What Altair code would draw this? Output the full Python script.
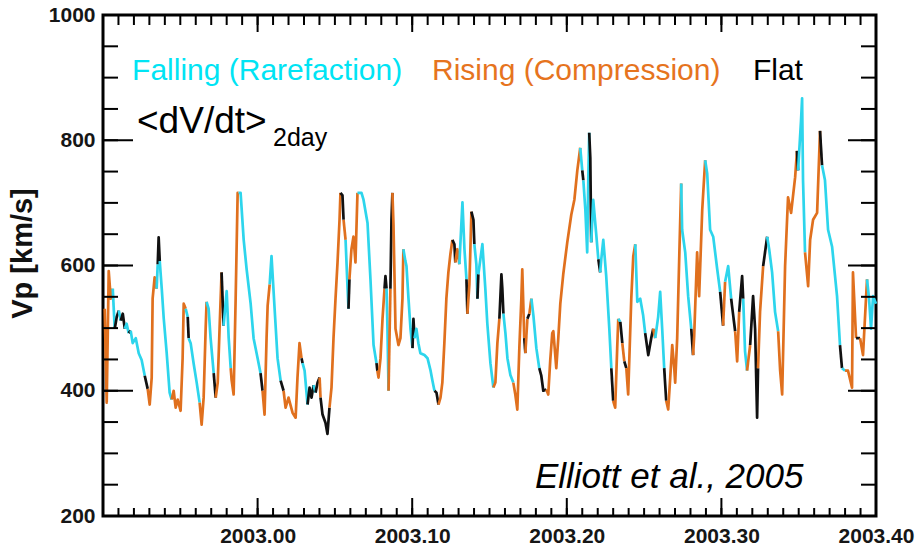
import altair as alt
import pandas as pd

# ---- solar wind speed Vp (km/s) vs decimal year, with 2-day slope class ----
# F = falling (rarefaction), R = rising (compression), L = flat
t = [
    2002.9011, 2002.9024, 2002.9037, 2002.9050, 2002.9063, 2002.9076, 2002.9089, 2002.9102,
    2002.9115, 2002.9128, 2002.9141, 2002.9153, 2002.9166, 2002.9179, 2002.9192, 2002.9212,
    2002.9231, 2002.9250, 2002.9270, 2002.9289, 2002.9302, 2002.9315, 2002.9321, 2002.9334,
    2002.9347, 2002.9354, 2002.9360, 2002.9367, 2002.9380, 2002.9393, 2002.9412, 2002.9431,
    2002.9444, 2002.9457, 2002.9470, 2002.9483, 2002.9502, 2002.9515, 2002.9522, 2002.9535,
    2002.9548, 2002.9554, 2002.9567, 2002.9586, 2002.9606, 2002.9625, 2002.9638, 2002.9651,
    2002.9664, 2002.9670, 2002.9683, 2002.9696, 2002.9716, 2002.9729, 2002.9742, 2002.9754,
    2002.9767, 2002.9780, 2002.9800, 2002.9813, 2002.9826, 2002.9832, 2002.9845, 2002.9858,
    2002.9871, 2002.9877, 2002.9890, 2002.9910, 2002.9929, 2002.9955, 2002.9974, 2003.0000,
    2003.0019, 2003.0032, 2003.0045, 2003.0058, 2003.0065, 2003.0078, 2003.0090, 2003.0110,
    2003.0129, 2003.0149, 2003.0168, 2003.0181, 2003.0200, 2003.0226, 2003.0246, 2003.0258,
    2003.0271, 2003.0284, 2003.0291, 2003.0304, 2003.0323, 2003.0336, 2003.0349, 2003.0362,
    2003.0375, 2003.0388, 2003.0401, 2003.0407, 2003.0420, 2003.0439, 2003.0452, 2003.0465,
    2003.0478, 2003.0491, 2003.0504, 2003.0517, 2003.0530, 2003.0536, 2003.0549, 2003.0556,
    2003.0569, 2003.0582, 2003.0588, 2003.0594, 2003.0607, 2003.0620, 2003.0633, 2003.0646,
    2003.0672, 2003.0685, 2003.0711, 2003.0730, 2003.0750, 2003.0769, 2003.0775, 2003.0782,
    2003.0795, 2003.0808, 2003.0821, 2003.0827, 2003.0834, 2003.0840, 2003.0847, 2003.0859,
    2003.0866, 2003.0872, 2003.0879, 2003.0892, 2003.0911, 2003.0924, 2003.0937, 2003.0943,
    2003.0956, 2003.0963, 2003.0976, 2003.0989, 2003.1002, 2003.1008, 2003.1015, 2003.1027,
    2003.1040, 2003.1053, 2003.1079, 2003.1099, 2003.1118, 2003.1131, 2003.1144, 2003.1157,
    2003.1170, 2003.1183, 2003.1195, 2003.1208, 2003.1221, 2003.1234, 2003.1247, 2003.1260,
    2003.1273, 2003.1279, 2003.1292, 2003.1305, 2003.1325, 2003.1338, 2003.1351, 2003.1357,
    2003.1370, 2003.1383, 2003.1396, 2003.1402, 2003.1415, 2003.1422, 2003.1428, 2003.1441,
    2003.1454, 2003.1473, 2003.1486, 2003.1506, 2003.1525, 2003.1538, 2003.1551, 2003.1564,
    2003.1577, 2003.1583, 2003.1590, 2003.1603, 2003.1616, 2003.1635, 2003.1654, 2003.1667,
    2003.1680, 2003.1693, 2003.1706, 2003.1712, 2003.1725, 2003.1732, 2003.1745, 2003.1758,
    2003.1771, 2003.1784, 2003.1803, 2003.1822, 2003.1835, 2003.1848, 2003.1868, 2003.1880,
    2003.1893, 2003.1906, 2003.1913, 2003.1932, 2003.1945, 2003.1958, 2003.1977, 2003.2003,
    2003.2029, 2003.2049, 2003.2068, 2003.2087, 2003.2100, 2003.2107, 2003.2120, 2003.2132,
    2003.2139, 2003.2145, 2003.2152, 2003.2158, 2003.2171, 2003.2191, 2003.2204, 2003.2216,
    2003.2223, 2003.2236, 2003.2255, 2003.2275, 2003.2288, 2003.2300, 2003.2313, 2003.2326,
    2003.2333, 2003.2346, 2003.2359, 2003.2372, 2003.2385, 2003.2397, 2003.2417, 2003.2430,
    2003.2443, 2003.2456, 2003.2475, 2003.2494, 2003.2507, 2003.2527, 2003.2546, 2003.2559,
    2003.2572, 2003.2591, 2003.2604, 2003.2617, 2003.2630, 2003.2643, 2003.2656, 2003.2669,
    2003.2682, 2003.2695, 2003.2701, 2003.2714, 2003.2727, 2003.2740, 2003.2746, 2003.2766,
    2003.2785, 2003.2805, 2003.2817, 2003.2824, 2003.2843, 2003.2856, 2003.2876, 2003.2895,
    2003.2908, 2003.2927, 2003.2947, 2003.2973, 2003.2992, 2003.3011, 2003.3024, 2003.3044,
    2003.3063, 2003.3089, 2003.3102, 2003.3115, 2003.3134, 2003.3141, 2003.3153, 2003.3166,
    2003.3186, 2003.3205, 2003.3218, 2003.3231, 2003.3237, 2003.3250, 2003.3270, 2003.3296,
    2003.3309, 2003.3328, 2003.3347, 2003.3367, 2003.3380, 2003.3393, 2003.3412, 2003.3431,
    2003.3451, 2003.3477, 2003.3489, 2003.3496, 2003.3515, 2003.3522, 2003.3528, 2003.3541,
    2003.3561, 2003.3574, 2003.3593, 2003.3619, 2003.3638, 2003.3651, 2003.3670, 2003.3690,
    2003.3716, 2003.3748, 2003.3767, 2003.3780, 2003.3800, 2003.3819, 2003.3845, 2003.3851,
    2003.3871, 2003.3897, 2003.3916, 2003.3942, 2003.3955, 2003.3968, 2003.3981, 2003.4000,
]

vp = [
    531, 381, 591, 547, 563, 499, 518, 528,
    512, 523, 499, 507, 492, 496, 476, 484,
    460, 449, 424, 403, 378, 421, 547, 581,
    563, 602, 645, 607, 563, 515, 460, 397,
    386, 400, 373, 386, 368, 452, 539, 531,
    518, 484, 476, 444, 413, 381, 346, 389,
    499, 542, 531, 484, 428, 389, 413, 499,
    589, 504, 559, 484, 436, 417, 394, 547,
    716, 716, 716, 641, 594, 539, 484, 452,
    428, 400, 362, 484, 536, 570, 615, 531,
    452, 416, 400, 373, 389, 365, 357, 421,
    476, 452, 444, 432, 378, 405, 389, 409,
    397, 413, 421, 389, 362, 349, 331, 373,
    405, 484, 547, 605, 673, 716, 712, 673,
    641, 563, 531, 578, 626, 646, 605, 716,
    716, 705, 668, 578, 473, 444, 432, 421,
    452, 515, 563, 583, 563, 499, 400, 563,
    673, 716, 665, 499, 473, 484, 547, 626,
    607, 599, 547, 499, 468, 515, 484, 499,
    476, 460, 457, 452, 433, 416, 400, 397,
    378, 389, 413, 476, 547, 589, 618, 641,
    634, 605, 626, 602, 701, 626, 578, 523,
    570, 686, 673, 634, 602, 547, 586, 610,
    634, 563, 507, 444, 405, 413, 476, 515,
    586, 563, 523, 492, 452, 425, 413, 394,
    370, 468, 547, 594, 484, 460, 515, 523,
    547, 520, 468, 436, 424, 400, 402, 394,
    449, 492, 495, 436, 484, 539, 586, 637,
    681, 705, 752, 788, 752, 736, 689, 621,
    736, 812, 772, 637, 705, 648, 610, 589,
    610, 641, 583, 499, 436, 384, 373, 468,
    515, 510, 476, 447, 436, 394, 547, 615,
    634, 542, 547, 520, 492, 457, 484, 499,
    484, 518, 558, 499, 436, 384, 370, 421,
    473, 436, 413, 484, 610, 731, 657, 621,
    551, 499, 457, 488, 621, 551, 689, 768,
    747, 657, 646, 594, 558, 504, 574, 599,
    547, 495, 447, 526, 583, 547, 463, 432,
    473, 551, 499, 357, 436, 526, 599, 646,
    626, 589, 526, 495, 432, 394, 599, 709,
    684, 741, 783, 752, 831, 867, 736, 621,
    567, 641, 673, 684, 815, 760, 736, 657,
    630, 551, 473, 436, 432, 432, 405, 589,
    484, 484, 457, 578, 547, 499, 551, 539,
]

trend = list(
    "RRRRRFLL" "FLLFFLFF" "FFFLRRRR" "RFLLFFFF"
    "FRRRRRRR" "FLFFFFRR" "RRFFFLRR" "RLFFFRRR"
    "RRFFFFFF" "FLRRRRFF" "FFLRRRRR" "RRLFFLLL"
    "FLLRLLLL" "RRRRRRLL" "RFFLRRRR" "FFFFFFLR"
    "RRRLLFFR" "LLRRRRRR" "FFFFFLLF" "FFFFFFFL"
    "LRRRRRRR" "LLRRFFFL" "RRLLFFLF" "FFFFFRRR"
    "LLLFFFFR" "RRRRRLRL" "RFFFLLLR" "RRRRRRRR"
    "RRRRFLFF" "FFLLFFFL" "FFFFFLRR" "RFLRLRRR"
    "RFFFFLLL" "RFFFFLRR" "RRRRRRFF" "FFLRRRRR"
    "FFFFFLRF" "FLRRLLFF" "RLLLLRRL" "FFFFRRRR"
    "RRRLFFFF" "RRRRRLFF" "FFFLFRRR" "RLRRFFFF"
)

NAMES = {"F": "Falling", "R": "Rising", "L": "Flat"}
STATE_DOMAIN = ["Falling", "Rising", "Flat"]
LINE_COLORS = ["#2dd5ec", "#e0701e", "#111111"]

# ---- split into coloured segments (each segment starts at the previous point) ----
rows = []
seg = 0
for i in range(1, len(t)):
    if i == 1 or trend[i] != trend[i - 1]:
        seg += 1
        rows.append({"t": t[i - 1], "vp": vp[i - 1], "state": NAMES[trend[i]], "seg": seg})
    rows.append({"t": t[i], "vp": vp[i], "state": NAMES[trend[i]], "seg": seg})
df = pd.DataFrame(rows)

W, H = 773, 501
X_DOMAIN = [2002.90, 2003.40]
Y_DOMAIN = [200, 1000]
x_major = [2003.0, 2003.1, 2003.2, 2003.3, 2003.4]
x_minor = [round(2002.90 + i * 0.01, 2) for i in range(51)]
y_major = [200, 400, 600, 800, 1000]
y_minor = list(range(200, 1001, 50))

FONT = "Liberation Sans, Arial, Helvetica, sans-serif"

xs = alt.Scale(domain=X_DOMAIN, nice=False, zero=False)
ys = alt.Scale(domain=Y_DOMAIN, nice=False, zero=False)

# one axis definition per channel, shared by every layer so they merge cleanly
AX_X = alt.Axis(
    orient="bottom", values=x_major, format=".2f", ticks=False, domain=False, grid=False,
    labelFont=FONT, labelFontSize=21, labelFontWeight="bold", labelColor="#161616",
    labelPadding=9, labelFlush=False, labelOverlap=False, title=None)
AX_Y = alt.Axis(
    orient="left", values=y_major, format="d", ticks=False, domain=False, grid=False,
    labelFont=FONT, labelFontSize=21, labelFontWeight="bold", labelColor="#161616",
    labelPadding=8, labelFlush=False, labelOverlap=False,
    title="Vp [km/s]", titleFont=FONT, titleFontSize=29, titleFontWeight="bold",
    titleColor="#111111", titleAngle=270, titleX=-66, titleY=238,
    titleAlign="center", titleBaseline="bottom")

# ---- inward tick marks on all four frame edges, as one rule layer in data units ----
ux = (X_DOMAIN[1] - X_DOMAIN[0]) / W   # data units per pixel, x
uy = (Y_DOMAIN[1] - Y_DOMAIN[0]) / H   # data units per pixel, y
tick_rows = []
for v, L in [(v, 8) for v in x_minor] + [(v, 18) for v in x_major]:
    tick_rows.append({"x": v, "x2": v, "y": Y_DOMAIN[0], "y2": Y_DOMAIN[0] + L * uy})
for v, L in [(v, 10) for v in x_minor] + [(v, 17) for v in x_major]:
    tick_rows.append({"x": v, "x2": v, "y": Y_DOMAIN[1], "y2": Y_DOMAIN[1] - L * uy})
for v, L in [(v, 15) for v in y_minor] + [(v, 30) for v in y_major]:
    tick_rows.append({"x": X_DOMAIN[0], "x2": X_DOMAIN[0] + L * ux, "y": v, "y2": v})
for v, L in [(v, 15) for v in y_minor] + [(v, 28) for v in y_major]:
    tick_rows.append({"x": X_DOMAIN[1], "x2": X_DOMAIN[1] - L * ux, "y": v, "y2": v})
tick_df = pd.DataFrame(tick_rows)

lines = alt.Chart(df).mark_line(strokeWidth=2.7, strokeJoin="round").encode(
    x=alt.X("t:Q", scale=xs, axis=AX_X),
    y=alt.Y("vp:Q", scale=ys, axis=AX_Y),
    color=alt.Color("state:N", scale=alt.Scale(domain=STATE_DOMAIN, range=LINE_COLORS), legend=None),
    detail="seg:N",
    order="t:Q",
)

ticks = alt.Chart(tick_df).mark_rule(color="black", strokeWidth=2).encode(
    x=alt.X("x:Q", scale=xs, axis=AX_X),
    x2="x2:Q",
    y=alt.Y("y:Q", scale=ys, axis=AX_Y),
    y2="y2:Q",
)


def note(text, x, y, size, color, style="normal"):
    d = pd.DataFrame({"t": [x], "vp": [y]})
    return alt.Chart(d).mark_text(
        text=text, align="left", baseline="alphabetic", fontSize=size, color=color,
        font=FONT, fontStyle=style,
    ).encode(x=alt.X("t:Q", scale=xs, axis=AX_X), y=alt.Y("vp:Q", scale=ys, axis=AX_Y))


notes = [
    note("Falling (Rarefaction)", 2002.9188, 896, 30, "#00e4f4"),
    note("Rising (Compression)", 2003.1128, 896, 30, "#e6741e"),
    note("Flat", 2003.3204, 896, 30, "#000000"),
    note("<dV/dt>", 2002.9220, 812, 37, "#000000"),
    note("2day", 2003.0100, 791, 25, "#000000"),
    note("Elliott et al., 2005", 2003.1794, 245, 35, "#000000", "italic"),
]

chart = alt.layer(lines, ticks, *notes).properties(
    width=W, height=H,
    autosize=alt.AutoSizeParams(type="none"),
    padding={"left": 103, "top": 15, "right": 920 - 103 - W, "bottom": 552 - 15 - H},
    background="white",
).configure_view(stroke="black", strokeWidth=3)

chart.save("out.html", embed_options={"renderer": "svg", "actions": False})
